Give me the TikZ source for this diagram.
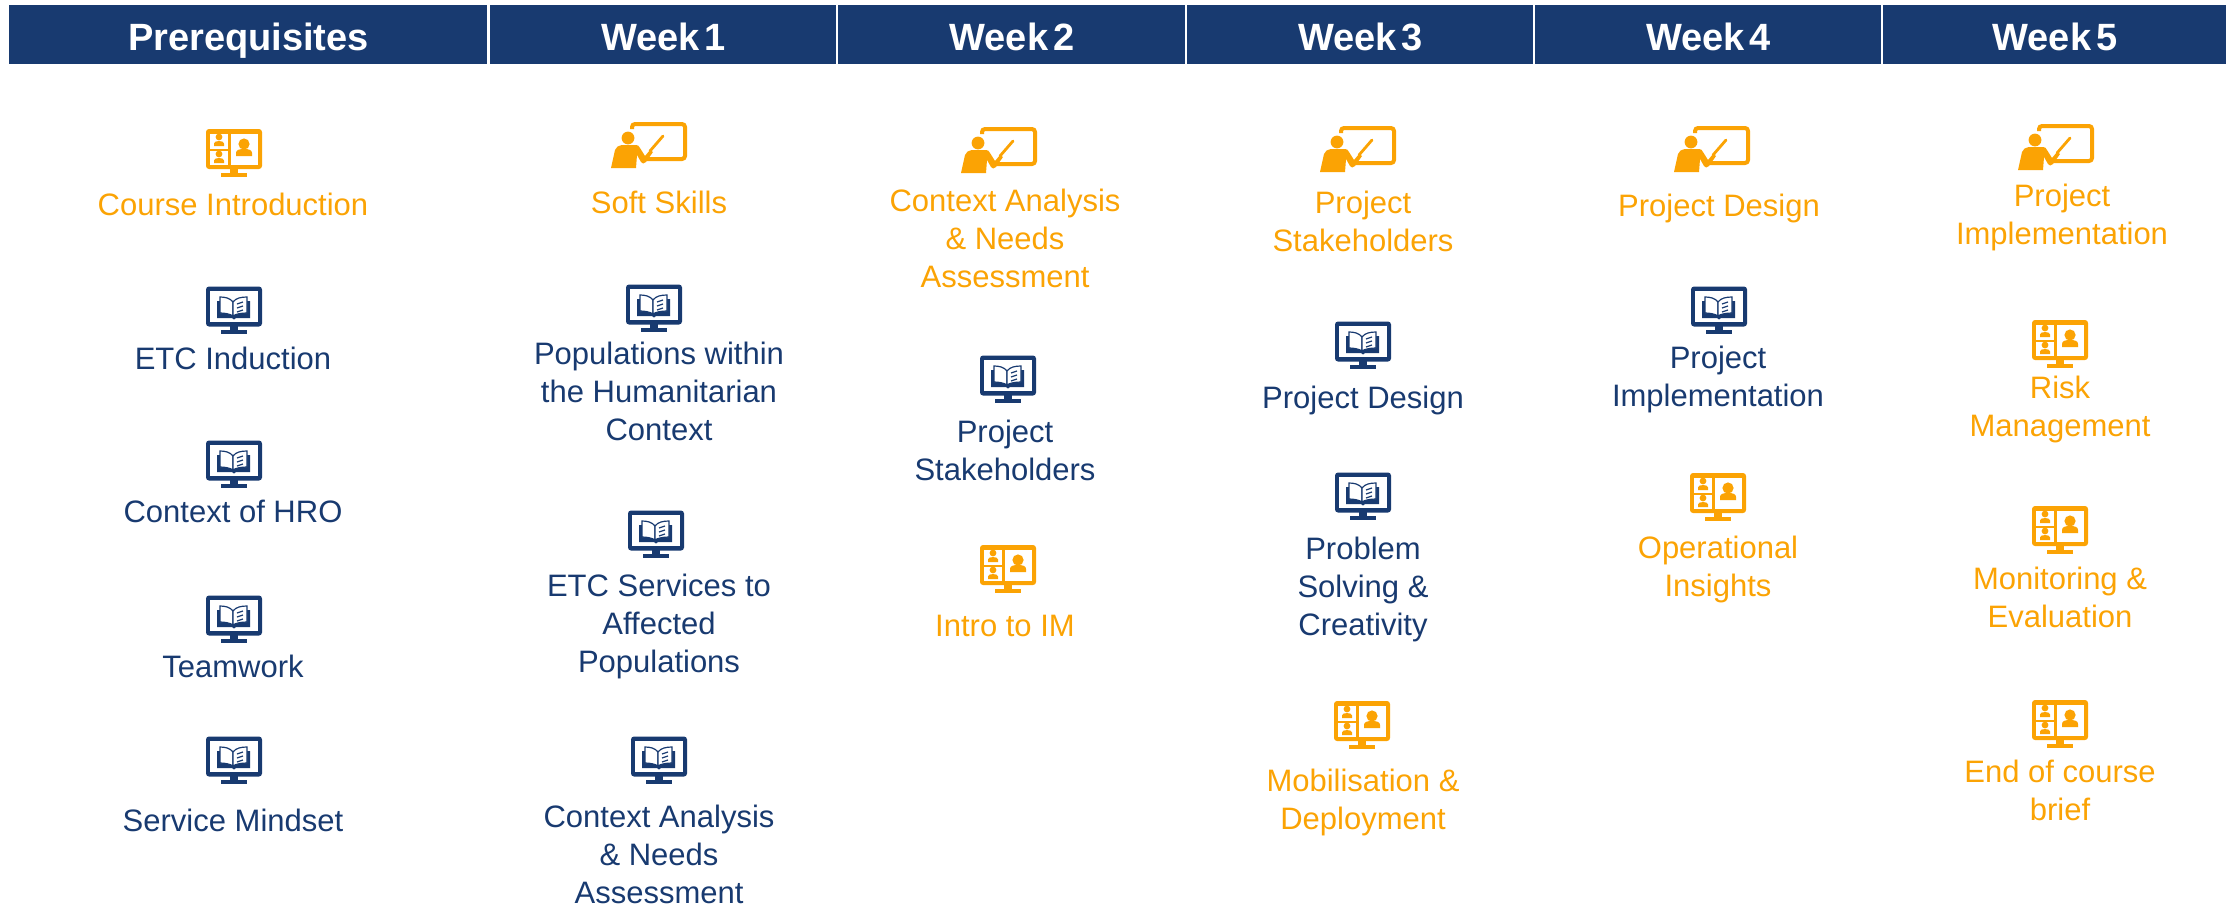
\documentclass[tikz,border=0pt]{standalone}
\usepackage{fontspec}
\setmainfont{Liberation Sans}
\definecolor{navy}{HTML}{183A70}
\definecolor{amber}{HTML}{FBA304}
\newcommand{\wk}[1]{Week\kern2.4pt #1}
\tikzset{
  x=0.5pt,y=-0.5pt,
  head/.style={fill=navy,text=white,minimum height=29.5pt,inner sep=0pt,text height=16pt,text depth=0pt,font=\fontsize{19}{22}\selectfont\bfseries},
  lbl/.style={align=center,inner sep=0pt,yshift=-2pt,font=\fontsize{15.5}{19}\selectfont,execute at begin node=\strut,execute at end node=\strut},
  navylbl/.style={lbl,text=navy},
  amberlbl/.style={lbl,text=amber},
  pics/book/.style={code={
    \fill[navy,rounded corners=1.5pt] (-28,-23.5) rectangle (28,16.5);
    \fill[white] (-24,-19.5) rectangle (24,12);
    \fill[navy] (-4,16) rectangle (4,20);
    \fill[navy] (-13,20) rectangle (13,23.5);
    \fill[navy] (-17,-9) -- (-17,8) -- (-2,8) -- (0,9.5) -- (2,8) -- (16,8) -- (16,-9) -- cycle;
    \filldraw[fill=white,draw=navy,line width=0.6pt] (-1,-8) .. controls (-4,-12) and (-9,-13) .. (-14,-13) -- (-14,3) .. controls (-9,3) and (-4,4) .. (-1,6) -- cycle;
    \filldraw[fill=white,draw=navy,line width=0.6pt] (-1,-8) .. controls (2,-12) and (7,-13) .. (13,-13) -- (13,3) .. controls (7,3) and (2,4) .. (-1,6) -- cycle;
    \draw[navy,line width=0.6pt] (3,-6) -- (9,-8) (3,-2) -- (9,-4) (3,2) -- (9,0);
  }},
  pics/video/.style={code={
    \fill[amber,rounded corners=1.5pt] (-28,-24) rectangle (28,16);
    \fill[white] (-3,-19) rectangle (24,12);
    \fill[white] (-24,-19) rectangle (-6,-4);
    \fill[white] (-24,-2) rectangle (-6,12);
    \fill[amber] (-4,16) rectangle (4,20);
    \fill[amber] (-13,20) rectangle (13,24);
    \fill[amber] (10,-9) circle[radius=2.8pt];
    \fill[amber] (2,3) -- (2,0) .. controls (2,-3) and (5,-4) .. (10,-4) .. controls (15,-4) and (18,-3) .. (18,0) -- (18,3) -- cycle;
    \foreach \yy in {-16,1}{
      \fill[amber] (-15,\yy) circle[radius=1.7pt];
      \fill[amber] (-20,\yy+9) -- (-20,\yy+6.5) .. controls (-20,\yy+5) and (-18,\yy+4) .. (-15,\yy+4) .. controls (-12,\yy+4) and (-10,\yy+5) .. (-10,\yy+6.5) -- (-10,\yy+9) -- cycle;
    }
  }},
  pics/teach/.style={code={
    \draw[amber,line width=2pt,rounded corners=1.5pt] (-17,-16) -- (-17,-21) -- (36,-21) -- (36,14) -- (-3,14);
    \fill[white] (-24,-14) rectangle (-8,-4);
    \fill[amber] (-21,-7) circle[radius=3.2pt];
    \fill[amber] (-38,23) -- (-34,5) .. controls (-33,2) and (-31,1) .. (-27,0) -- (-13,0) .. controls (-11,0) and (-10,1) .. (-9,3) -- (-4,11) -- (1,5) -- (4,7) -- (-3,17) .. controls (-5,19) and (-7,19) .. (-8,17) -- (-12,10) -- (-13,23) -- cycle;
    \draw[amber,line width=1.4pt,line cap=round] (1,6) -- (14,-9);
  }},
}
\begin{document}
\begin{tikzpicture}
\useasboundingbox (0,0) rectangle (2226,907);
% headers
\node[head,minimum width=239pt,anchor=west] (h0) at (9,34.5) {Prerequisites};
\node[head,minimum width=173pt,anchor=west] (h1) at (490,34.5) {\wk{1}};
\node[head,minimum width=173.5pt,anchor=west] (h2) at (838,34.5) {\wk{2}};
\node[head,minimum width=173pt,anchor=west] (h3) at (1187,34.5) {\wk{3}};
\node[head,minimum width=173pt,anchor=west] (h4) at (1535,34.5) {\wk{4}};
\node[head,minimum width=171.5pt,anchor=west] (h5) at (1883,34.5) {\wk{5}};
% prerequisites
\pic at (234,153) {video};
\node[amberlbl] (a1) at (233,204) {Course Introduction};
\pic at (234,310) {book};
\node[navylbl] (a2) at (233,358) {ETC Induction};
\pic at (234,464) {book};
\node[navylbl] (a3) at (233,511) {Context of HRO};
\pic at (234,619) {book};
\node[navylbl] (a4) at (233,666) {Teamwork};
\pic at (234,760) {book};
\node[navylbl] (a5) at (233,820) {Service Mindset};
% week 1
\pic at (649,145) {teach};
\node[amberlbl] (b1) at (659,202) {Soft Skills};
\pic at (654,308) {book};
\node[navylbl] (b2) at (659,393) {Populations within\\the Humanitarian\\Context};
\pic at (656,534) {book};
\node[navylbl] (b3) at (659,625) {ETC Services to\\Affected\\Populations};
\pic at (659,760) {book};
\node[navylbl] (b4) at (659,856) {Context Analysis\\\& Needs\\Assessment};
% week 2
\pic at (999,150) {teach};
\node[amberlbl] (c1) at (1005,240) {Context Analysis\\\& Needs\\Assessment};
\pic at (1008,379) {book};
\node[navylbl] (c2) at (1005,452) {Project\\Stakeholders};
\pic at (1008,569) {video};
\node[amberlbl] (c3) at (1005,625) {Intro to IM};
% week 3
\pic at (1358,149) {teach};
\node[amberlbl] (d1) at (1363,223) {Project\\Stakeholders};
\pic at (1363,345) {book};
\node[navylbl] (d2) at (1363,397) {Project Design};
\pic at (1363,496) {book};
\node[navylbl] (d3) at (1363,588) {Problem\\Solving \&\\Creativity};
\pic at (1362,725) {video};
\node[amberlbl] (d4) at (1363,801) {Mobilisation \&\\Deployment};
% week 4
\pic at (1712,149) {teach};
\node[amberlbl] (e1) at (1719,205) {Project Design};
\pic at (1719,310) {book};
\node[navylbl] (e2) at (1718,378) {Project\\Implementation};
\pic at (1718,497) {video};
\node[amberlbl] (e3) at (1718,568) {Operational\\Insights};
% week 5
\pic at (2056,147) {teach};
\node[amberlbl] (f1) at (2062,216) {Project\\Implementation};
\pic at (2060,344) {video};
\node[amberlbl] (f2) at (2060,408) {Risk\\Management};
\pic at (2060,530) {video};
\node[amberlbl] (f3) at (2060,599) {Monitoring \&\\Evaluation};
\pic at (2060,724) {video};
\node[amberlbl] (f4) at (2060,792) {End of course\\brief};
\end{tikzpicture}
\end{document}
